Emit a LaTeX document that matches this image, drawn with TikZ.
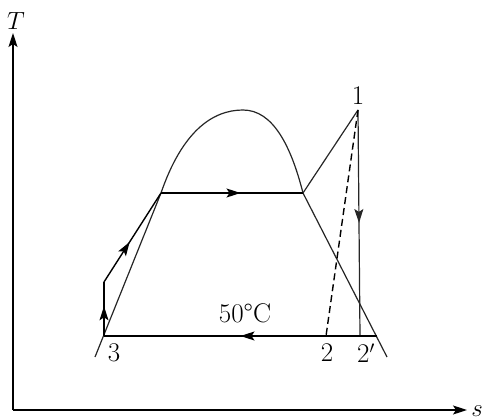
\documentclass[tikz,border=0pt]{standalone}
\usepackage{fontspec}
\usetikzlibrary{arrows.meta,decorations.markings}
\begin{document}
\begin{tikzpicture}[x=1pt,y=-1pt,
  line/.style={line width=1.4pt,black},
  thin line/.style={line width=1.2pt,black!85},
  tip/.style={-{Stealth[length=14pt,width=9pt,inset=3pt]}},
  midarrow/.style={postaction={decorate},decoration={markings,mark=at position #1 with {\arrow{Stealth[length=14pt,width=9pt,inset=3pt]}}}},
  lbl/.style={font=\fontsize{27}{30}\selectfont,inner sep=0pt}]
\useasboundingbox (0,0) rectangle (482,420);
% axes
\coordinate (O) at (13,410);
\coordinate (Ty) at (13,33);
\coordinate (Sx) at (467,410);
\draw[line,tip] (O) -- (Ty);
\draw[line,tip] (O) -- (Sx);
\node[lbl] (T) at (16,21) {$T$};
\node[lbl] (S) at (477,411) {$s$};
% saturation dome
\coordinate (dl) at (95,357);
\coordinate (fl) at (161,193);
\coordinate (top) at (243,110);
\coordinate (gr) at (303,193);
\coordinate (dr) at (387,357);
\draw[thin line] (dl) -- (fl) .. controls (182,132) and (212,110) .. (top)
  .. controls (273,110) and (291,146) .. (gr) -- (dr);
% cycle points
\coordinate (p3) at (104,336);
\coordinate (p3a) at (104,282);
\coordinate (p1) at (358,110);
\coordinate (p2) at (326,336);
\coordinate (p2p) at (360,336);
\coordinate (pend) at (377,336);
\draw[line,midarrow=0.55] (p3) -- (p3a);
\draw[line,midarrow=0.45] (p3a) -- (fl);
\draw[line,midarrow=0.56] (fl) -- (gr);
\draw[thin line] (gr) -- (p1);
\draw[thin line,midarrow=0.5] (p1) -- (p2p);
\draw[line,dash pattern=on 7pt off 4pt] (p1) -- (p2);
\draw[line,midarrow=0.5] (pend) -- (p3);
% labels
\node[lbl] (l1) at (358,96) {1};
\node[lbl] (l3) at (114,353) {3};
\node[lbl] (l2) at (327,353) {2};
\node[lbl] (l2p) at (366,353) {2$'$};
\node[lbl] (t50) at (245,313) {50°C};
\end{tikzpicture}
\end{document}
